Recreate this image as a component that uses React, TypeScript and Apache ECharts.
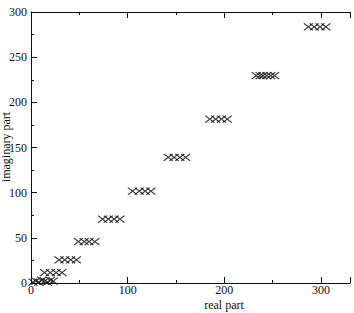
import React, { useEffect, useRef } from "react";
import * as echarts from "echarts";

const bottomReal = [2, 5, 8, 11, 14, 17, 20, 23];
const bottomImag = [1, 2, 1, 3, 2, 1, 3, 2];

const clusterImag = [11.4, 25.5, 45.7, 70.8, 101.8, 139.1, 181.5, 229.5, 283.4];
const clusterReal = [
  [14, 20, 26, 32],
  [29, 35, 41, 47],
  [49, 55, 60, 66],
  [74, 80, 86, 92],
  [105, 112, 118, 124],
  [142, 148, 154, 160],
  [185, 191, 197, 203],
  [233, 237, 240, 244, 248, 252],
  [287, 293, 299, 305],
];

const xTicks = [0, 100, 200, 300];
const yTicks = [0, 50, 100, 150, 200, 250, 300];
const xTitle = "real part";
const yTitle = "imaginary part";

export default function App() {
  const ref = useRef<HTMLDivElement>(null);
  useEffect(() => {
    document.body.style.margin = "0";
    if (!ref.current) return;
    const chart = echarts.init(ref.current, null, { renderer: "svg" });
    const points: number[][] = [];
    bottomReal.forEach((r, i) => points.push([r, bottomImag[i]]));
    clusterImag.forEach((im, i) => clusterReal[i].forEach((r) => points.push([r, im])));
    const font = "Liberation Serif";
    const ink = "#111";
    const axisCommon = {
      axisLine: { show: true, lineStyle: { color: ink, width: 1 } },
      axisTick: { show: true, inside: true, length: 6, lineStyle: { color: ink } },
      minorTick: { show: true, splitNumber: 2, length: 3, lineStyle: { color: ink } },
      splitLine: { show: false },
    };
    chart.setOption({
      animation: false,
      backgroundColor: "#fff",
      textStyle: { fontFamily: font },
      grid: { left: 31, right: 4, top: 12, bottom: 30, containLabel: false, outerBoundsMode: "none" },
      graphic: [
        {
          type: "text",
          x: 224,
          y: 305,
          style: {
            text: xTitle,
            fill: ink,
            font: `12px "${font}"`,
            align: "center",
            verticalAlign: "middle",
          },
        },
        {
          type: "text",
          x: 6,
          y: 147,
          rotation: Math.PI / 2,
          style: {
            text: yTitle,
            fill: ink,
            font: `12px "${font}"`,
            align: "center",
            verticalAlign: "middle",
          },
        },
      ],
      xAxis: [
        {
          type: "value",
          min: 0,
          max: 330,
          interval: 100,
          ...axisCommon,
          axisLabel: {
            color: ink,
            fontFamily: font,
            fontSize: 12,
            margin: 1,
            showMaxLabel: false,
            formatter: (v: number) => (xTicks.includes(v) ? String(v) : ""),
          },
        },
        {
          type: "value",
          position: "top",
          min: 0,
          max: 330,
          interval: 100,
          ...axisCommon,
          axisLabel: { show: false },
        },
      ],
      yAxis: {
        type: "value",
        min: 0,
        max: 300,
        interval: 50,
        ...axisCommon,
        axisLabel: {
          color: ink,
          fontFamily: font,
          fontSize: 12,
          margin: 4,
          formatter: (v: number) => (yTicks.includes(v) ? String(v) : ""),
        },
      },
      series: [
        {
          type: "scatter",
          data: points,
          symbol: "path://M0,0L10,10M10,0L0,10",
          symbolSize: [9, 7],
          itemStyle: { color: "none", borderColor: ink, borderWidth: 1.2 },
          emphasis: { disabled: true },
        },
      ],
    });
    return () => chart.dispose();
  }, []);
  return <div ref={ref} style={{ width: 354, height: 313 }} />;
}
